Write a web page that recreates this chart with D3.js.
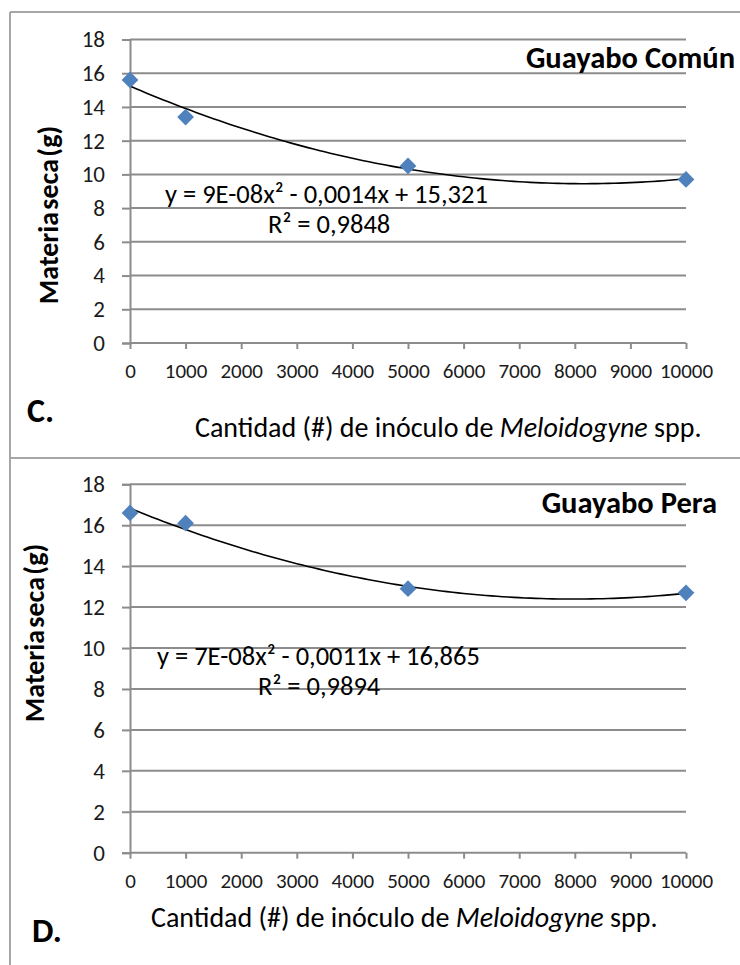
<!DOCTYPE html>
<html>
<head>
<meta charset="utf-8">
<script src="https://d3js.org/d3.v7.min.js"></script>
<style>
  body { margin: 0; background: #fff; }
  svg text { font-family: Carlito, Calibri, "Liberation Sans", Arial, sans-serif; }
</style>
</head>
<body>
<div id="chart"></div>
<script>
// Materia seca vs inoculo de Meloidogyne - two panels (C, D)

var inoculo = [0, 1000, 5000, 10000];
var comun = [15.6, 13.4, 10.5, 9.7];
var pera = [16.6, 16.1, 12.9, 12.7];
var xTicks = [0, 1000, 2000, 3000, 4000, 5000, 6000, 7000, 8000, 9000, 10000];
var yTicks = [0, 2, 4, 6, 8, 10, 12, 14, 16, 18];
var titles = ["Guayabo Común", "Guayabo Pera"];
var equations = ["y = 9E-08x² - 0,0014x + 15,321", "y = 7E-08x² - 0,0011x + 16,865"];
var rsq = ["R² = 0,9848", "R² = 0,9894"];
var letters = ["C.", "D."];

var W = 740, H = 965;

var svg = d3.select("#chart").append("svg")
    .attr("width", W)
    .attr("height", H);

// panel frames
var frame = "#a6a6a6";
svg.append("line").attr("x1", 10).attr("x2", W).attr("y1", 12).attr("y2", 12)
    .style("stroke", frame).style("stroke-width", 2);
svg.append("line").attr("x1", 10).attr("x2", 10).attr("y1", 12).attr("y2", H)
    .style("stroke", frame).style("stroke-width", 2);
svg.append("line").attr("x1", 10).attr("x2", W).attr("y1", 458).attr("y2", 458)
    .style("stroke", frame).style("stroke-width", 2);

// least squares quadratic fit (Excel polynomial trendline, order 2)
function polyfit2(xs, ys) {
    var n = xs.length, s = [0, 0, 0, 0, 0], t = [0, 0, 0];
    for (var i = 0; i < n; i++) {
        var x = xs[i] / 1000, p = 1;
        for (var k = 0; k < 5; k++) { s[k] += p; if (k < 3) t[k] += p * ys[i]; p *= x; }
    }
    var M = [[s[0], s[1], s[2], t[0]], [s[1], s[2], s[3], t[1]], [s[2], s[3], s[4], t[2]]];
    for (var c = 0; c < 3; c++) {
        for (var r = c + 1; r < 3; r++) {
            var f = M[r][c] / M[c][c];
            for (var j = c; j < 4; j++) M[r][j] -= f * M[c][j];
        }
    }
    var b = [0, 0, 0];
    for (var r = 2; r >= 0; r--) {
        var v = M[r][3];
        for (var j = r + 1; j < 3; j++) v -= M[r][j] * b[j];
        b[r] = v / M[r][r];
    }
    return function(x) { x = x / 1000; return b[0] + b[1] * x + b[2] * x * x; };
}

function drawPanel(o) {
    var x = d3.scaleLinear().domain([0, 10000]).range([130, 686]);
    var y = d3.scaleLinear().domain([0, 18]).range([o.bottom, o.top]);
    var g = svg.append("g");

    // horizontal gridlines
    g.selectAll(".grid")
        .data(yTicks.slice(1))
        .enter().append("line")
        .attr("x1", 130).attr("x2", 686)
        .attr("y1", function(d) { return y(d); })
        .attr("y2", function(d) { return y(d); })
        .style("stroke", "#8c8c8c").style("stroke-width", 2);

    // y axis
    var ya = g.append("g")
        .attr("transform", "translate(130,0)")
        .call(d3.axisLeft(y).tickValues(yTicks).tickSize(8).tickPadding(17));
    ya.select(".domain").style("stroke", "#8c8c8c").style("stroke-width", 2);
    ya.selectAll(".tick line").style("stroke", "#8c8c8c").style("stroke-width", 2);
    ya.selectAll("text").style("font-size", "23px").style("fill", "#1a1a1a");

    // x axis
    var xa = g.append("g")
        .attr("transform", "translate(0," + o.bottom + ")")
        .call(d3.axisBottom(x).tickValues(xTicks).tickFormat(d3.format("d")).tickSize(6));
    xa.select(".domain").attr("d", "M130,0H686").style("stroke", "#8c8c8c").style("stroke-width", 2);
    xa.selectAll(".tick line").style("stroke", "#8c8c8c").style("stroke-width", 2);
    xa.selectAll("text").attr("y", 35).attr("dy", null)
        .style("font-size", "21px").style("fill", "#1a1a1a");

    // trendline
    var fit = polyfit2(inoculo, o.values);
    var pts = d3.range(0, 10001, 100);
    g.append("path")
        .datum(pts)
        .attr("d", d3.line().x(function(d) { return x(d); }).y(function(d) { return y(fit(d)); }))
        .style("fill", "none").style("stroke", "#000").style("stroke-width", 1.6);

    // markers
    g.selectAll(".pt")
        .data(o.values)
        .enter().append("path")
        .attr("d", d3.symbol().type(d3.symbolSquare).size(140))
        .attr("transform", function(d, i) { return "translate(" + x(inoculo[i]) + "," + y(d) + ") rotate(45)"; })
        .style("fill", "#4f81bd");

    // series label
    g.append("text")
        .attr("x", o.titleX).attr("y", o.titleY)
        .style("text-anchor", "end").style("font-weight", "bold").style("font-size", "30.5px")
        .text(o.title);

    // equation and R2
    g.append("text")
        .attr("x", o.eqX).attr("y", o.eqY)
        .style("font-size", "26.5px").style("fill", "#000")
        .text(o.eq);
    g.append("text")
        .attr("x", o.rX).attr("y", o.eqY + 30)
        .style("font-size", "26.5px").style("fill", "#000")
        .text(o.r2);

    // y axis title
    g.append("text")
        .attr("transform", "translate(" + o.ytX + "," + o.ytY + ") rotate(-90)")
        .style("text-anchor", "middle").style("font-weight", "bold").style("font-size", "28px")
        .style("word-spacing", "-4px")
        .text("Materia seca (g)");

    // x axis title
    var xt = g.append("text")
        .attr("x", o.xtX).attr("y", o.xtY)
        .style("font-size", "28px");
    xt.append("tspan").text("Cantidad (#) de inóculo de ");
    xt.append("tspan").style("font-style", "italic").text("Meloidogyne");
    xt.append("tspan").text(" spp.");

    // panel letter
    g.append("text")
        .attr("x", o.letX).attr("y", o.letY)
        .style("font-size", "34px").style("font-weight", "bold")
        .text(o.letter);
}

drawPanel({ top: 39.5, bottom: 343, values: comun, title: titles[0],
    titleX: 735, titleY: 68, eq: equations[0], eqX: 165, eqY: 203, r2: rsq[0], rX: 268,
    ytX: 58, ytY: 215, xtX: 195, xtY: 437, letX: 27, letY: 422, letter: letters[0] });

drawPanel({ top: 484.3, bottom: 852.7, values: pera, title: titles[1],
    titleX: 717, titleY: 513, eq: equations[1], eqX: 157, eqY: 665, r2: rsq[1], rX: 258,
    ytX: 44, ytY: 633, xtX: 151, xtY: 927, letX: 32, letY: 942, letter: letters[1] });
</script>
</body>
</html>
